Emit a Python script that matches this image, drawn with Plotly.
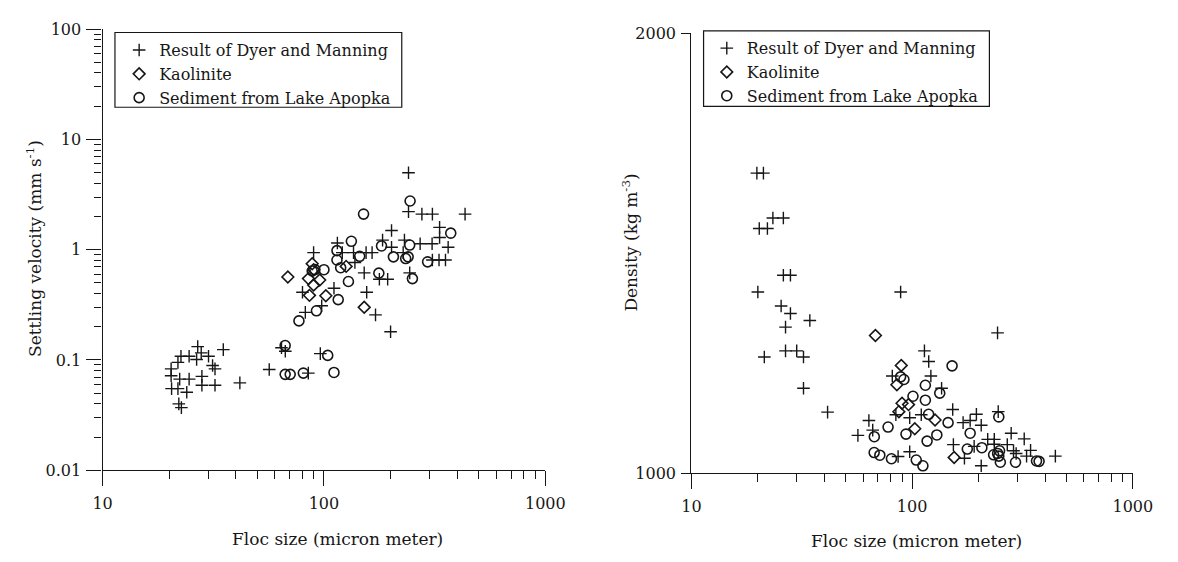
import plotly.graph_objects as go

# ---------------- data: left panel (settling velocity) ----------------
dm_size_v = [20.4, 20.4, 21.9, 22.6, 24.6, 26.9, 27.9, 30.1, 26.6, 31.4, 32.2, 35.1,
             20.5, 21.9, 24.0, 22.3, 24.6, 28.1, 28.1, 32.2, 41.7, 22.1, 22.7, 56.6,
             64.3, 66.9, 85, 96.3, 82.4, 97.7, 171, 200,
             80.0, 111, 89.8, 115, 121, 136, 155, 165, 138, 152, 156, 178, 194,
             184, 202, 228, 231, 244, 241, 241, 277, 309, 434, 202, 333, 333,
             364, 272, 308, 309, 331, 354]
dm_vel = [0.083, 0.072, 0.095, 0.108, 0.108, 0.132, 0.116, 0.108, 0.101, 0.089, 0.083, 0.124,
          0.055, 0.055, 0.051, 0.067, 0.067, 0.071, 0.059, 0.059, 0.062, 0.040, 0.037, 0.082,
          0.129, 0.12, 0.076, 0.114, 0.27, 0.31, 0.256, 0.18,
          0.411, 0.446, 0.94, 1.15, 0.94, 0.94, 0.94, 0.94, 0.764, 0.615, 0.411, 0.539, 0.539,
          1.22, 1.05, 0.94, 1.22, 0.615, 4.97, 2.21, 2.10, 2.10, 2.10, 1.49, 1.59, 1.29,
          1.05, 1.13, 1.13, 0.806, 0.806, 0.806]

kao_size_v = [68.7, 88.5, 89.8, 85.1, 89.8, 95.7, 86, 102, 126, 152]
kao_vel = [0.565, 0.745, 0.658, 0.546, 0.477, 0.531, 0.385, 0.382, 0.705, 0.30]

apo_size_v = [66.8, 66.8, 70.4, 80.7, 104, 111, 77.1, 92.5, 91, 88.5, 100, 114.5, 114.5,
              119, 133, 129, 116, 145, 151, 245, 244, 182, 206, 234, 240, 251, 177, 294, 374]
apo_vel = [0.135, 0.074, 0.074, 0.076, 0.11, 0.077, 0.226, 0.279, 0.66, 0.64, 0.658, 0.98, 0.805,
           0.686, 1.19, 0.514, 0.352, 0.87, 2.10, 2.76, 1.10, 1.08, 0.86, 0.83, 0.86, 0.546, 0.612,
           0.775, 1.41]

# ---------------- data: right panel (density) ----------------
dm_size_d = [19.8, 21.2, 23.4, 26.1, 20.3, 22.1, 26.1, 28.1, 20.0, 88.7, 25.5, 28.1, 34.4,
             26.7, 21.4, 26.7, 30.0, 32.2, 32.2, 41.4, 113.7, 118.9, 121.6, 136, 81.3, 84.4,
             97.5, 110, 63.7, 66.3, 56.8, 86.4, 97.5, 243.8, 152.7, 195.5, 183.2, 170.2,
             205.6, 245.5, 281, 322, 220, 235.6, 235.6, 269.8, 153.8, 191, 288, 296, 330,
             344, 445.6, 172.6, 205.6]
dm_dens = [1682, 1682, 1580, 1580, 1556, 1556, 1450, 1450, 1412, 1412, 1380, 1363, 1347,
           1332, 1264, 1278, 1278, 1264, 1193, 1139, 1278, 1254, 1221, 1193, 1221, 1133,
           1126, 1133, 1120, 1098, 1086, 1038, 1049, 1319, 1145, 1134, 1120, 1115,
           1109, 1140, 1091, 1078, 1077, 1077, 1066, 1065, 1065, 1061, 1051, 1045, 1039,
           1052, 1039, 1034, 1017]

kao_size_d = [68.2, 89.3, 85.3, 90.0, 96.3, 87.1, 127, 102.8, 155]
kao_dens = [1313, 1245, 1201, 1159, 1156, 1140, 1121, 1101, 1036]

apo_size_d = [88.7, 91.8, 114.8, 100.9, 114.8, 133.4, 118.8, 145.5, 77.8, 93.8, 129.4, 116.9,
              67.4, 67.3, 71.4, 80.6, 104.4, 111.9, 151.7, 183.2, 177.8, 207, 234, 244, 249,
              247, 251, 294, 376, 366, 247]
apo_dens = [1219, 1213, 1200, 1175, 1166, 1182, 1134, 1115, 1105, 1089, 1087, 1073,
            1083, 1047, 1041, 1033, 1030, 1017, 1244, 1091, 1055, 1058, 1042, 1045, 1051,
            1039, 1025, 1025, 1027, 1028, 1128]

names = ["Result of Dyer and Manning", "Kaolinite", "Sediment from Lake Apopka"]
x_tickvals = [10, 100, 1000]
v_tickvals = [0.01, 0.1, 1, 10, 100]
v_ticktext = ["0.01", "0.1", "1", "10", "100"]
d_tickvals = [1000, 2000]

# ---------------- styling ----------------
W, H = 1178, 562
INK = "#161616"
FONT = "DejaVu Serif"

def px_x(p):
    return p / W

def px_y(p):
    return 1 - p / H

plus = dict(symbol="cross-thin-open", size=9, color=INK, line=dict(width=1.4, color=INK))
diam = dict(symbol="diamond-open", size=9, color=INK, line=dict(width=1.6, color=INK))
circ = dict(symbol="circle-open", size=10, color=INK, line=dict(width=1.6, color=INK))

fig = go.Figure()
series_left = [(dm_size_v, dm_vel, plus), (kao_size_v, kao_vel, diam), (apo_size_v, apo_vel, circ)]
series_right = [(dm_size_d, dm_dens, plus), (kao_size_d, kao_dens, diam), (apo_size_d, apo_dens, circ)]
for (xs, ys, mk), nm in zip(series_left, names):
    fig.add_trace(go.Scatter(x=xs, y=ys, mode="markers", name=nm, marker=mk,
                             xaxis="x", yaxis="y", legend="legend"))
for (xs, ys, mk), nm in zip(series_right, names):
    fig.add_trace(go.Scatter(x=xs, y=ys, mode="markers", name=nm, marker=mk,
                             xaxis="x2", yaxis="y2", legend="legend2"))

minor_x = [m * d for d in (10, 100) for m in range(2, 10)]
minor_v = [m * d for d in (0.01, 0.1, 1, 10) for m in range(2, 10)]

axis_common = dict(showline=True, linecolor=INK, linewidth=1.3, showgrid=False, zeroline=False,
                   ticks="outside", tickcolor=INK, tickwidth=1.2,
                   tickfont=dict(family=FONT, size=16, color=INK))

TITLE_FONT = dict(family=FONT, size=17, color=INK)

fig.update_layout(
    width=W, height=H,
    margin=dict(l=0, r=0, t=0, b=0),
    paper_bgcolor="white", plot_bgcolor="white",
    font=dict(family=FONT, size=16, color=INK),
    xaxis=dict(type="log", range=[1, 3], domain=[px_x(95), px_x(549.3)], anchor="y",
               tickmode="array", tickvals=x_tickvals, ticktext=[str(v) for v in x_tickvals],
               ticklen=15, ticklabelstandoff=3,
               minor=dict(tickmode="array", tickvals=minor_x, ticks="outside", ticklen=8,
                          tickcolor=INK, tickwidth=1.2, showgrid=False),
               **axis_common),
    yaxis=dict(type="log", range=[-2, 2], domain=[px_y(477.4), px_y(20.7)], anchor="x",
               tickmode="array", tickvals=v_tickvals, ticktext=v_ticktext, ticklen=15,
               ticklabelstandoff=2,
               minor=dict(tickmode="array", tickvals=minor_v, ticks="outside", ticklen=7,
                          tickcolor=INK, tickwidth=1.2, showgrid=False),
               **axis_common),
    xaxis2=dict(type="log", range=[1, 3], domain=[px_x(699.2), px_x(1152.2)], anchor="y2",
                tickmode="array", tickvals=x_tickvals, ticktext=[str(v) for v in x_tickvals],
                ticklen=15, ticklabelstandoff=3,
                minor=dict(tickmode="array", tickvals=minor_x, ticks="outside", ticklen=8,
                           tickcolor=INK, tickwidth=1.2, showgrid=False),
                **axis_common),
    yaxis2=dict(range=[1000, 2000], domain=[px_y(480.5), px_y(25)], anchor="x2",
                tickmode="array", tickvals=d_tickvals, ticktext=[str(v) for v in d_tickvals],
                ticklen=9, ticklabelstandoff=2, **axis_common),
    legend=dict(x=px_x(112), y=px_y(25), xanchor="left", yanchor="top",
                bgcolor="rgba(0,0,0,0)", borderwidth=0, tracegroupgap=0,
                font=dict(family=FONT, size=16, color=INK)),
    legend2=dict(x=px_x(715), y=px_y(23), xanchor="left", yanchor="top",
                 bgcolor="rgba(0,0,0,0)", borderwidth=0, tracegroupgap=0,
                 font=dict(family=FONT, size=16, color=INK)),
    shapes=[
        dict(type="rect", xref="paper", yref="paper", x0=px_x(107.7), x1=px_x(402),
             y0=px_y(101.7), y1=px_y(24.3), line=dict(color=INK, width=1.2)),
        dict(type="rect", xref="paper", yref="paper", x0=px_x(711.7), x1=px_x(1005),
             y0=px_y(100.7), y1=px_y(22.7), line=dict(color=INK, width=1.2)),
    ],
    annotations=[
        dict(text="Floc size (micron meter)", xref="paper", yref="paper",
             x=px_x(336), y=px_y(549), showarrow=False, xanchor="center", yanchor="middle",
             font=TITLE_FONT),
        dict(text="Floc size (micron meter)", xref="paper", yref="paper",
             x=px_x(930), y=px_y(551), showarrow=False, xanchor="center", yanchor="middle",
             font=TITLE_FONT),
        dict(text="Settling velocity (mm s<sup>-1</sup>)", xref="paper", yref="paper",
             x=px_x(24), y=px_y(248), showarrow=False, textangle=-90,
             xanchor="center", yanchor="middle", font=TITLE_FONT),
        dict(text="Density (kg m<sup>-3</sup>)", xref="paper", yref="paper",
             x=px_x(636), y=px_y(242), showarrow=False, textangle=-90,
             xanchor="center", yanchor="middle", font=TITLE_FONT),
    ],
)

fig.write_html("out.html")
